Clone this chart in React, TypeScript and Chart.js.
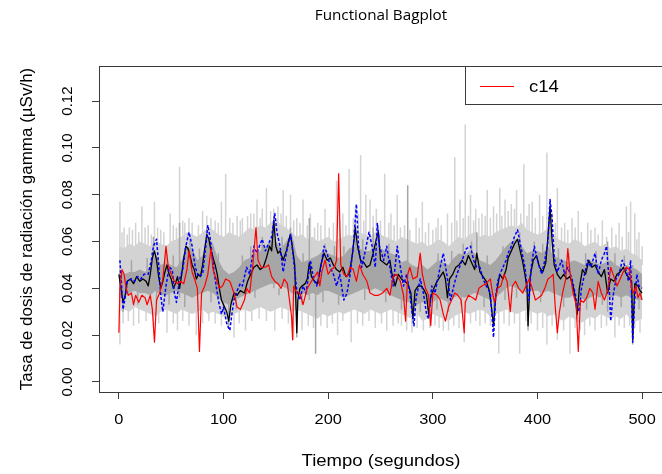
import React, { useEffect, useRef } from "react";
import { Chart, registerables } from "chart.js";

Chart.register(...registerables);

// ---- data (time in seconds, dose rate in µSv/h) ----
const c14: number[][] = [
  [0,0.021],[1,0.040],[3,0.048],[5,0.046],[7,0.040],[9,0.037],[12,0.038],[14,0.033],[16,0.037],[19,0.034],
  [22,0.037],[25,0.036],[27,0.033],[30,0.037],[32,0.031],[34,0.017],[36,0.035],[39,0.038],[42,0.044],[45,0.058],
  [47,0.050],[50,0.046],[53,0.043],[56,0.042],[59,0.043],[62,0.042],[65,0.048],[67,0.056],[70,0.047],[73,0.043],
  [75,0.040],[77,0.013],[79,0.038],[82,0.041],[85,0.046],[88,0.057],[90,0.048],[93,0.044],[96,0.040],[99,0.041],
  [102,0.044],[106,0.043],[110,0.038],[113,0.032],[116,0.031],[120,0.035],[122,0.040],[125,0.038],[128,0.050],[131,0.066],
  [133,0.052],[136,0.049],[140,0.049],[143,0.050],[146,0.045],[149,0.043],[152,0.042],[155,0.040],[158,0.044],[161,0.042],
  [163,0.035],[165,0.028],[166,0.018],[167,0.041],[170,0.038],[173,0.038],[176,0.033],[180,0.040],[184,0.043],[187,0.045],
  [190,0.047],[192,0.041],[194,0.047],[197,0.052],[200,0.046],[203,0.048],[206,0.049],[208,0.052],[210,0.089],[211,0.070],
  [212,0.050],[215,0.046],[218,0.045],[221,0.049],[224,0.048],[227,0.043],[230,0.050],[233,0.046],[237,0.043],[240,0.038],
  [244,0.037],[248,0.037],[252,0.038],[256,0.040],[259,0.037],[262,0.045],[265,0.046],[269,0.043],[272,0.037],[274,0.026],
  [276,0.046],[278,0.049],[281,0.044],[285,0.045],[288,0.055],[290,0.046],[293,0.040],[296,0.037],[298,0.024],[300,0.038],
  [304,0.037],[307,0.035],[310,0.029],[312,0.026],[315,0.032],[318,0.035],[321,0.038],[324,0.037],[327,0.035],[330,0.021],
  [331,0.034],[334,0.037],[338,0.036],[341,0.035],[344,0.040],[347,0.041],[351,0.042],[355,0.044],[357,0.038],[359,0.034],
  [362,0.040],[365,0.041],[368,0.046],[371,0.043],[374,0.030],[376,0.041],[379,0.043],[382,0.040],[386,0.038],[389,0.041],
  [392,0.044],[395,0.040],[398,0.035],[401,0.036],[404,0.037],[407,0.040],[410,0.044],[413,0.045],[415,0.046],[417,0.032],
  [419,0.021],[421,0.030],[424,0.038],[427,0.044],[429,0.057],[431,0.047],[434,0.038],[437,0.033],[439,0.013],[441,0.035],
  [444,0.034],[447,0.036],[450,0.040],[453,0.038],[455,0.031],[458,0.043],[461,0.038],[464,0.035],[467,0.039],[470,0.049],
  [473,0.045],[476,0.041],[479,0.044],[482,0.047],[485,0.049],[488,0.048],[490,0.040],[492,0.038],[494,0.041],[496,0.036],
  [498,0.038],[500,0.035]
];

const medianCurve: number[][] = [
  [0,0.046],[2,0.040],[4,0.034],[6,0.037],[8,0.043],[11,0.044],[14,0.042],[17,0.045],[20,0.043],[23,0.044],
  [26,0.043],[28,0.041],[30,0.046],[32,0.053],[34,0.056],[36,0.052],[38,0.045],[40,0.040],[42,0.043],[44,0.047],
  [46,0.050],[48,0.046],[50,0.044],[52,0.040],[54,0.042],[56,0.045],[58,0.040],[60,0.046],[62,0.053],[64,0.058],
  [66,0.057],[68,0.054],[70,0.050],[72,0.048],[74,0.044],[76,0.046],[78,0.045],[80,0.050],[82,0.057],[84,0.063],
  [86,0.061],[88,0.056],[90,0.053],[92,0.050],[94,0.046],[96,0.040],[98,0.035],[100,0.033],[103,0.030],[105,0.026],
  [107,0.033],[110,0.038],[113,0.037],[116,0.039],[120,0.038],[123,0.043],[126,0.046],[129,0.049],[132,0.050],[135,0.048],
  [138,0.049],[141,0.053],[144,0.058],[146,0.056],[148,0.069],[150,0.058],[152,0.055],[154,0.056],[157,0.052],[160,0.056],
  [162,0.060],[164,0.063],[166,0.057],[168,0.050],[170,0.021],[171,0.035],[173,0.040],[175,0.041],[178,0.042],[180,0.044],
  [182,0.051],[184,0.045],[187,0.043],[190,0.042],[193,0.050],[196,0.055],[199,0.052],[202,0.053],[205,0.050],[208,0.048],
  [211,0.047],[214,0.049],[217,0.045],[220,0.046],[223,0.054],[226,0.066],[228,0.058],[231,0.052],[234,0.051],[237,0.049],
  [240,0.050],[243,0.055],[246,0.061],[248,0.064],[250,0.052],[253,0.051],[256,0.050],[259,0.052],[261,0.046],[264,0.041],
  [267,0.046],[270,0.044],[273,0.043],[276,0.042],[279,0.038],[281,0.027],[283,0.039],[286,0.041],[289,0.041],[292,0.039],
  [294,0.037],[296,0.029],[298,0.036],[301,0.040],[304,0.043],[307,0.045],[310,0.047],[312,0.044],[314,0.036],[316,0.044],
  [319,0.046],[322,0.049],[325,0.050],[328,0.052],[331,0.050],[334,0.054],[337,0.051],[340,0.048],[342,0.055],[345,0.047],
  [348,0.045],[351,0.043],[354,0.039],[356,0.032],[358,0.024],[360,0.036],[362,0.041],[364,0.046],[367,0.044],[370,0.048],
  [372,0.053],[375,0.056],[378,0.059],[381,0.061],[383,0.057],[386,0.051],[388,0.046],[390,0.040],[391,0.024],[393,0.045],
  [396,0.052],[399,0.054],[402,0.049],[405,0.047],[408,0.051],[410,0.062],[412,0.075],[414,0.060],[416,0.050],[419,0.046],
  [422,0.044],[425,0.046],[428,0.044],[431,0.045],[434,0.041],[436,0.036],[438,0.029],[440,0.040],[443,0.048],[446,0.046],
  [449,0.052],[452,0.049],[455,0.050],[458,0.047],[461,0.045],[464,0.048],[467,0.038],[470,0.044],[473,0.043],[476,0.046],
  [479,0.047],[482,0.049],[485,0.046],[488,0.044],[490,0.043],[491,0.018],[493,0.042],[496,0.041],[498,0.039],[500,0.038]
];

const blueCurve: number[][] = [
  [1,0.052],[2,0.045],[4,0.031],[6,0.036],[8,0.043],[12,0.044],[15,0.043],[18,0.045],[21,0.044],[24,0.046],
  [28,0.046],[31,0.052],[33,0.058],[36,0.061],[38,0.050],[40,0.037],[42,0.030],[45,0.041],[48,0.049],[51,0.048],
  [53,0.038],[55,0.034],[58,0.044],[61,0.048],[64,0.058],[67,0.064],[70,0.058],[73,0.049],[76,0.045],[80,0.046],
  [83,0.058],[85,0.067],[87,0.062],[89,0.055],[91,0.047],[93,0.041],[95,0.035],[98,0.029],[100,0.032],[103,0.025],
  [106,0.022],[108,0.029],[110,0.035],[113,0.039],[116,0.042],[118,0.041],[122,0.049],[125,0.046],[129,0.058],[132,0.055],
  [135,0.059],[137,0.061],[140,0.056],[142,0.058],[146,0.062],[149,0.072],[151,0.064],[154,0.058],[157,0.047],[160,0.055],
  [164,0.063],[165,0.060],[167,0.052],[170,0.039],[173,0.035],[176,0.041],[179,0.038],[183,0.052],[186,0.044],[189,0.041],
  [192,0.046],[196,0.058],[199,0.055],[202,0.049],[205,0.046],[208,0.041],[211,0.046],[215,0.035],[218,0.038],[221,0.046],
  [224,0.058],[227,0.076],[229,0.058],[232,0.049],[235,0.055],[239,0.064],[242,0.058],[245,0.049],[247,0.068],[249,0.058],
  [253,0.052],[256,0.058],[259,0.049],[262,0.041],[266,0.058],[269,0.049],[272,0.041],[275,0.046],[278,0.038],[280,0.030],
  [282,0.024],[284,0.036],[288,0.044],[291,0.038],[294,0.029],[296,0.027],[299,0.041],[302,0.038],[307,0.049],[310,0.055],
  [313,0.047],[317,0.035],[320,0.041],[323,0.046],[328,0.052],[332,0.057],[336,0.058],[339,0.052],[342,0.049],[345,0.049],
  [348,0.044],[351,0.041],[355,0.038],[358,0.019],[360,0.036],[362,0.043],[364,0.046],[367,0.049],[370,0.052],[372,0.055],
  [375,0.058],[378,0.062],[381,0.065],[384,0.058],[388,0.049],[390,0.041],[392,0.035],[394,0.049],[397,0.058],[400,0.052],
  [404,0.046],[407,0.052],[410,0.060],[412,0.078],[414,0.070],[416,0.053],[419,0.047],[423,0.052],[426,0.046],[429,0.049],
  [433,0.044],[436,0.038],[438,0.032],[440,0.030],[442,0.040],[445,0.046],[448,0.052],[451,0.049],[455,0.055],[458,0.046],
  [461,0.052],[464,0.055],[466,0.058],[468,0.046],[470,0.026],[472,0.036],[475,0.044],[478,0.046],[481,0.052],[484,0.049],
  [487,0.043],[489,0.052],[491,0.017],[493,0.036],[495,0.046],[497,0.041],[500,0.040]
];

// band values every 5 seconds, t = 0 .. 500
const lightUpper: number[] = [
  0.058,0.057,0.059,0.058,0.060,0.059,0.058,0.060,0.059,0.058,
  0.060,0.061,0.062,0.064,0.063,0.062,0.064,0.066,0.065,0.063,
  0.062,0.064,0.063,0.062,0.064,0.066,0.065,0.067,0.066,0.068,
  0.070,0.067,0.066,0.064,0.062,0.063,0.061,0.062,0.060,0.061,
  0.062,0.060,0.061,0.062,0.063,0.062,0.064,0.063,0.062,0.064,
  0.063,0.062,0.061,0.060,0.062,0.061,0.060,0.059,0.060,0.058,
  0.059,0.061,0.060,0.058,0.060,0.062,0.061,0.063,0.064,0.062,
  0.063,0.062,0.064,0.065,0.066,0.067,0.066,0.068,0.065,0.064,
  0.063,0.064,0.066,0.063,0.061,0.060,0.059,0.061,0.060,0.058,
  0.059,0.060,0.058,0.059,0.057,0.058,0.056,0.057,0.055,0.054,
  0.052
];
const lightLower: number[] = [
  0.030,0.031,0.030,0.032,0.031,0.030,0.029,0.028,0.030,0.031,
  0.030,0.029,0.031,0.030,0.029,0.030,0.031,0.029,0.030,0.029,
  0.028,0.027,0.029,0.030,0.031,0.030,0.031,0.032,0.031,0.030,
  0.031,0.032,0.031,0.030,0.031,0.030,0.029,0.028,0.027,0.029,
  0.028,0.029,0.030,0.029,0.030,0.031,0.030,0.029,0.031,0.030,
  0.029,0.030,0.031,0.030,0.029,0.028,0.027,0.029,0.026,0.027,
  0.029,0.028,0.027,0.026,0.028,0.029,0.030,0.029,0.030,0.031,
  0.030,0.028,0.029,0.030,0.031,0.030,0.029,0.030,0.031,0.030,
  0.029,0.030,0.028,0.029,0.027,0.026,0.028,0.027,0.025,0.026,
  0.028,0.027,0.029,0.028,0.027,0.028,0.027,0.029,0.026,0.026,
  0.027
];
const darkUpper: number[] = [
  0.048,0.046,0.047,0.047,0.048,0.047,0.049,0.055,0.050,0.051,
  0.050,0.049,0.052,0.058,0.057,0.052,0.054,0.062,0.059,0.052,
  0.048,0.046,0.047,0.049,0.052,0.053,0.055,0.056,0.058,0.060,
  0.060,0.057,0.060,0.064,0.054,0.051,0.052,0.053,0.054,0.056,
  0.055,0.054,0.053,0.054,0.057,0.058,0.057,0.056,0.056,0.059,
  0.057,0.056,0.055,0.054,0.051,0.052,0.050,0.049,0.050,0.048,
  0.050,0.052,0.051,0.050,0.053,0.055,0.054,0.056,0.055,0.052,
  0.051,0.050,0.052,0.055,0.058,0.060,0.061,0.058,0.055,0.056,
  0.056,0.055,0.058,0.054,0.053,0.052,0.051,0.052,0.051,0.050,
  0.052,0.051,0.050,0.051,0.052,0.050,0.049,0.050,0.049,0.048,
  0.046
];
const darkLower: number[] = [
  0.036,0.036,0.038,0.039,0.038,0.038,0.037,0.039,0.037,0.037,
  0.038,0.039,0.038,0.037,0.036,0.037,0.038,0.039,0.038,0.036,
  0.034,0.033,0.035,0.036,0.037,0.038,0.039,0.040,0.041,0.042,
  0.042,0.041,0.040,0.038,0.037,0.038,0.037,0.038,0.037,0.039,
  0.039,0.038,0.037,0.036,0.037,0.038,0.039,0.040,0.039,0.040,
  0.039,0.038,0.037,0.036,0.035,0.034,0.034,0.033,0.034,0.033,
  0.034,0.036,0.035,0.034,0.036,0.037,0.036,0.037,0.038,0.037,
  0.036,0.035,0.036,0.038,0.040,0.041,0.040,0.039,0.038,0.039,
  0.039,0.038,0.039,0.038,0.037,0.036,0.036,0.037,0.036,0.035,
  0.036,0.037,0.036,0.037,0.036,0.037,0.036,0.037,0.036,0.035,
  0.035
];

// narrow excursions of the bands: [time, low, high]
const lightSpikes: number[][] = [
  [1,0.05,0.077],[1,0.016,0.035],[5,0.05,0.066],[10,0.05,0.066],[14,0.024,0.035],[16,0.05,0.068],[22,0.05,0.075],
  [28,0.05,0.067],[34,0.05,0.077],[40,0.05,0.065],[46,0.021,0.035],[49,0.05,0.072],[56,0.022,0.035],[58,0.05,0.092],
  [63,0.05,0.068],[67,0.05,0.070],[74,0.020,0.035],[80,0.05,0.073],[88,0.05,0.070],[98,0.05,0.077],[102,0.05,0.089],
  [110,0.019,0.035],[113,0.05,0.071],[118,0.05,0.070],[121,0.022,0.035],[126,0.05,0.072],[132,0.05,0.078],[137,0.05,0.074],
  [141,0.05,0.083],[149,0.022,0.035],[152,0.05,0.075],[157,0.05,0.082],[164,0.05,0.080],[167,0.018,0.035],[170,0.05,0.070],
  [175,0.022,0.035],[176,0.05,0.078],[183,0.05,0.072],[190,0.05,0.068],[197,0.05,0.074],[208,0.05,0.086],[209,0.020,0.035],
  [214,0.05,0.072],[220,0.05,0.091],[222,0.017,0.035],[226,0.05,0.075],[231,0.05,0.097],[236,0.05,0.080],[240,0.05,0.078],
  [245,0.023,0.035],[246,0.05,0.074],[254,0.05,0.089],[256,0.022,0.035],[260,0.05,0.072],[266,0.05,0.080],[270,0.024,0.035],
  [280,0.021,0.035],[284,0.05,0.070],[290,0.05,0.077],[296,0.05,0.068],[297,0.023,0.035],[305,0.05,0.070],[310,0.022,0.035],
  [314,0.05,0.072],[321,0.05,0.096],[326,0.05,0.078],[330,0.017,0.035],[331,0.05,0.110],[336,0.05,0.080],[341,0.05,0.074],
  [345,0.024,0.035],[347,0.05,0.072],[352,0.05,0.082],[358,0.05,0.075],[363,0.012,0.035],[364,0.05,0.083],[369,0.05,0.078],
  [375,0.05,0.076],[380,0.05,0.082],[383,0.012,0.035],[387,0.05,0.093],[392,0.05,0.076],[395,0.05,0.077],[400,0.022,0.035],
  [402,0.05,0.080],[409,0.05,0.098],[409,0.016,0.035],[414,0.05,0.072],[419,0.05,0.083],[419,0.018,0.035],[426,0.05,0.068],
  [431,0.012,0.035],[433,0.05,0.070],[439,0.05,0.073],[445,0.020,0.035],[448,0.05,0.068],[455,0.05,0.066],[455,0.022,0.035],
  [462,0.05,0.069],[471,0.05,0.066],[474,0.019,0.035],[478,0.05,0.068],[478,0.024,0.035],[485,0.05,0.075],[489,0.05,0.077],
  [493,0.05,0.072],[497,0.05,0.064],[498,0.021,0.035],
  // smaller ragged excursions of the light band edges
  [3,0.05,0.064],[8,0.05,0.063],[13,0.05,0.065],[19,0.05,0.064],[25,0.05,0.066],[31,0.05,0.063],[37,0.05,0.066],
  [43,0.05,0.064],[52,0.05,0.067],[55,0.05,0.066],[61,0.05,0.069],[70,0.05,0.068],[76,0.05,0.067],[84,0.05,0.071],
  [92,0.05,0.069],[95,0.05,0.068],[106,0.05,0.070],[109,0.05,0.068],[116,0.05,0.069],[123,0.05,0.071],[129,0.05,0.072],
  [135,0.05,0.070],[145,0.05,0.073],[148,0.05,0.074],[155,0.05,0.072],[160,0.05,0.071],[167,0.05,0.069],[173,0.05,0.068],
  [180,0.05,0.067],[187,0.05,0.066],[193,0.05,0.067],[201,0.05,0.066],[205,0.05,0.068],[211,0.05,0.069],[217,0.05,0.067],
  [224,0.05,0.070],[229,0.05,0.072],[234,0.05,0.069],[243,0.05,0.071],[250,0.05,0.069],[258,0.05,0.068],[263,0.05,0.067],
  [269,0.05,0.066],[273,0.05,0.067],[278,0.05,0.065],[287,0.05,0.066],[293,0.05,0.064],[300,0.05,0.065],[303,0.05,0.066],
  [308,0.05,0.067],[318,0.05,0.068],[323,0.05,0.069],[329,0.05,0.070],[334,0.05,0.071],[339,0.05,0.069],[344,0.05,0.070],
  [350,0.05,0.071],[355,0.05,0.070],[361,0.05,0.072],[366,0.05,0.071],[372,0.05,0.073],[378,0.05,0.074],[384,0.05,0.072],
  [390,0.05,0.071],[398,0.05,0.070],[405,0.05,0.071],[411,0.05,0.070],[417,0.05,0.068],[423,0.05,0.066],[429,0.05,0.065],
  [436,0.05,0.066],[442,0.05,0.064],[451,0.05,0.065],[458,0.05,0.063],[466,0.05,0.062],[475,0.05,0.063],[481,0.05,0.062],
  [487,0.05,0.064],[495,0.05,0.061],[500,0.05,0.058],
  [4,0.025,0.035],[9,0.026,0.035],[19,0.025,0.035],[26,0.026,0.035],[33,0.024,0.035],[38,0.025,0.035],[52,0.025,0.035],
  [61,0.026,0.035],[67,0.024,0.035],[80,0.025,0.035],[86,0.026,0.035],[92,0.025,0.035],[98,0.024,0.035],[104,0.023,0.035],
  [115,0.025,0.035],[127,0.026,0.035],[134,0.027,0.035],[141,0.026,0.035],[156,0.027,0.035],[162,0.025,0.035],[181,0.024,0.035],
  [186,0.023,0.035],[193,0.024,0.035],[199,0.023,0.035],[204,0.025,0.035],[214,0.026,0.035],[228,0.025,0.035],[233,0.024,0.035],
  [239,0.026,0.035],[251,0.025,0.035],[262,0.024,0.035],[267,0.025,0.035],[275,0.022,0.035],[285,0.023,0.035],[291,0.022,0.035],
  [302,0.024,0.035],[306,0.023,0.035],[315,0.022,0.035],[320,0.024,0.035],[325,0.023,0.035],[336,0.025,0.035],[341,0.026,0.035],
  [350,0.025,0.035],[355,0.024,0.035],[368,0.025,0.035],[373,0.024,0.035],[378,0.025,0.035],[389,0.026,0.035],[394,0.025,0.035],
  [405,0.023,0.035],[414,0.024,0.035],[425,0.022,0.035],[436,0.023,0.035],[441,0.022,0.035],[450,0.024,0.035],[461,0.023,0.035],
  [466,0.024,0.035],[483,0.023,0.035],[488,0.024,0.035],[493,0.023,0.035]
];
const darkSpikes: number[][] = [
  [4,0.030,0.045],[33,0.040,0.062],[58,0.036,0.068],[84,0.040,0.066],[105,0.024,0.045],[148,0.040,0.071],
  [164,0.045,0.066],[170,0.019,0.045],[182,0.035,0.070],[188,0.012,0.040],[226,0.045,0.068],[243,0.040,0.066],
  [248,0.045,0.066],[276,0.035,0.084],[281,0.025,0.045],[296,0.027,0.045],[342,0.040,0.064],[358,0.022,0.045],
  [391,0.022,0.045],[412,0.045,0.077],[438,0.027,0.045],[467,0.030,0.060],[491,0.016,0.050],
  // smaller ragged excursions of the dark band edges
  [12,0.045,0.052],[27,0.045,0.053],[45,0.045,0.055],[52,0.045,0.054],[68,0.045,0.061],[77,0.045,0.057],[95,0.045,0.055],
  [118,0.045,0.054],[126,0.045,0.058],[137,0.045,0.062],[156,0.045,0.062],[176,0.045,0.055],[197,0.045,0.059],[206,0.045,0.058],
  [215,0.045,0.058],[233,0.045,0.061],[258,0.045,0.059],[266,0.045,0.058],[288,0.045,0.054],[305,0.045,0.055],[318,0.045,0.056],
  [329,0.045,0.059],[337,0.045,0.060],[352,0.045,0.054],[367,0.045,0.058],[383,0.045,0.064],[397,0.045,0.060],[405,0.045,0.059],
  [420,0.045,0.057],[430,0.045,0.055],[446,0.045,0.055],[456,0.045,0.056],[474,0.045,0.055],[483,0.045,0.054],
  [18,0.033,0.040],[36,0.034,0.040],[48,0.033,0.040],[63,0.032,0.040],[88,0.034,0.040],[100,0.030,0.040],[112,0.031,0.040],
  [130,0.036,0.040],[153,0.037,0.040],[175,0.033,0.040],[195,0.034,0.040],[210,0.033,0.040],[235,0.035,0.040],[255,0.034,0.040],
  [270,0.031,0.040],[288,0.030,0.040],[304,0.031,0.040],[315,0.030,0.040],[327,0.033,0.040],[349,0.032,0.040],[369,0.035,0.040],
  [380,0.036,0.040],[403,0.034,0.040],[425,0.032,0.040],[447,0.031,0.040],[462,0.033,0.040],[480,0.032,0.040],[497,0.031,0.040]
];

const bandT: number[] = Array.from({ length: 101 }, (_, i) => i * 5);

const chartTitle = "Functional Bagplot";
const xTitle = "Tiempo (segundos)";
const yTitle = "Tasa de dosis de radiación gamma (µSv/h)";
const legendLabel = "c14";

const LIGHT = "#d3d3d3";
const DARK = "#a6a6a6";

const toXY = (pairs: number[][]) => pairs.map(([x, y]) => ({ x, y }));
const bandXY = (vals: number[]) => vals.map((y, i) => ({ x: bandT[i], y }));
const spikeXY = (list: number[][]) => {
  const out: { x: number; y: number | null }[] = [];
  [...list].sort((a, b) => a[0] - b[0]).forEach(([t, lo, hi]) => {
    out.push({ x: t, y: lo }, { x: t, y: hi }, { x: t, y: null });
  });
  return out;
};

const FONT = '"Liberation Sans", Arial, sans-serif';
const HSTRETCH = 1.09;

const decor = {
  id: "decor",
  afterDraw(chart: any) {
    const { ctx, chartArea, scales } = chart;
    const { left, top, right, bottom } = chartArea;
    ctx.save();
    ctx.strokeStyle = "#3a3a3a";
    ctx.lineWidth = 1;
    ctx.strokeRect(Math.round(left) + 0.5, Math.round(top) + 0.5, right - left + 6, Math.round(bottom - top));

    const hText = (txt: string, x: number, y: number, font: string, align = "center") => {
      ctx.save();
      ctx.font = font;
      ctx.textBaseline = "middle";
      ctx.textAlign = align;
      ctx.translate(x, y);
      ctx.scale(HSTRETCH, 1);
      ctx.fillText(txt, 0, 0);
      ctx.restore();
    };
    const vText = (txt: string, x: number, y: number, font: string) => {
      ctx.save();
      ctx.font = font;
      ctx.textBaseline = "middle";
      ctx.textAlign = "center";
      ctx.translate(x, y);
      ctx.rotate(-Math.PI / 2);
      ctx.fillText(txt, 0, 0);
      ctx.restore();
    };
    ctx.fillStyle = "#000";

    hText(chartTitle, (left + 663) / 2, 16, '14px "Open Sans", sans-serif');

    scales.x.ticks.forEach((t: any) => {
      hText(String(Math.round(t.value)), scales.x.getPixelForValue(t.value), 420, `15px ${FONT}`);
    });
    scales.y.ticks.forEach((t: any) => {
      vText(t.value.toFixed(2), 68, scales.y.getPixelForValue(t.value), `15px ${FONT}`);
    });

    hText(xTitle, (left + 663) / 2, 461, `17px ${FONT}`);
    vText(yTitle, 27, (top + bottom) / 2, `17px ${FONT}`);

    ctx.strokeStyle = "#3a3a3a";
    ctx.strokeRect(465.5, Math.round(top) + 0.5, 260, 38);
    ctx.strokeStyle = "#ff0000";
    ctx.lineWidth = 1.2;
    ctx.beginPath();
    ctx.moveTo(480, 86.5);
    ctx.lineTo(514, 86.5);
    ctx.stroke();
    hText(legendLabel, 529, 87, `17px ${FONT}`, "left");
    ctx.restore();
  },
};

export default function App() {
  const ref = useRef<HTMLCanvasElement | null>(null);
  useEffect(() => {
    if (!ref.current) return;
    const lineBase = { pointRadius: 0, tension: 0, borderJoinStyle: "round" as const, fill: false };
    const chart = new Chart(ref.current, {
      type: "line",
      data: {
        datasets: [
          { ...lineBase, label: legendLabel, data: toXY(c14), borderColor: "#ff0000", borderWidth: 1.2, order: 0 },
          { ...lineBase, label: "blue", data: toXY(blueCurve), borderColor: "#0000ff", borderWidth: 1.5, borderDash: [3, 2], order: 1 },
          { ...lineBase, label: "median", data: toXY(medianCurve), borderColor: "#000000", borderWidth: 1.3, order: 2 },
          { ...lineBase, label: "darkSpikes", data: spikeXY(darkSpikes), borderColor: DARK, borderWidth: 1.5, spanGaps: false, order: 3 },
          { ...lineBase, label: "darkUpper", data: bandXY(darkUpper), borderColor: "rgba(0,0,0,0)", borderWidth: 0, backgroundColor: DARK, fill: "+1", order: 4 },
          { ...lineBase, label: "darkLower", data: bandXY(darkLower), borderColor: "rgba(0,0,0,0)", borderWidth: 0, order: 4 },
          { ...lineBase, label: "lightSpikes", data: spikeXY(lightSpikes), borderColor: LIGHT, borderWidth: 1.5, spanGaps: false, order: 5 },
          { ...lineBase, label: "lightUpper", data: bandXY(lightUpper), borderColor: "rgba(0,0,0,0)", borderWidth: 0, backgroundColor: LIGHT, fill: "+1", order: 6 },
          { ...lineBase, label: "lightLower", data: bandXY(lightLower), borderColor: "rgba(0,0,0,0)", borderWidth: 0, order: 6 },
        ] as any,
      },
      options: {
        animation: false,
        responsive: false,
        devicePixelRatio: 1,
        layout: { padding: { top: 66, left: 0, right: 0, bottom: 0 } },
        plugins: { legend: { display: false }, tooltip: { enabled: false }, title: { display: false } },
        scales: {
          x: {
            type: "linear",
            min: -19,
            max: 519,
            offset: false,
            ticks: { display: false, stepSize: 100, includeBounds: false },
            grid: { drawOnChartArea: false, drawTicks: true, tickLength: 7, color: "#3a3a3a", lineWidth: 1, offset: false },
            border: { display: false },
            afterFit: (s: any) => { s.height = 82; },
          },
          y: {
            type: "linear",
            min: -0.0043,
            max: 0.135,
            ticks: { display: false, stepSize: 0.02, includeBounds: false },
            grid: { drawOnChartArea: false, drawTicks: true, tickLength: 7, color: "#3a3a3a", lineWidth: 1 },
            border: { display: false },
            afterFit: (s: any) => { s.width = 99; },
          },
        },
      } as any,
      plugins: [decor],
    });
    return () => chart.destroy();
  }, []);
  return (
    <div style={{ position: "absolute", left: 0, top: 0, width: 662, height: 474, background: "#fff" }}>
      <canvas ref={ref} width={662} height={474} style={{ display: "block" }} />
    </div>
  );
}
